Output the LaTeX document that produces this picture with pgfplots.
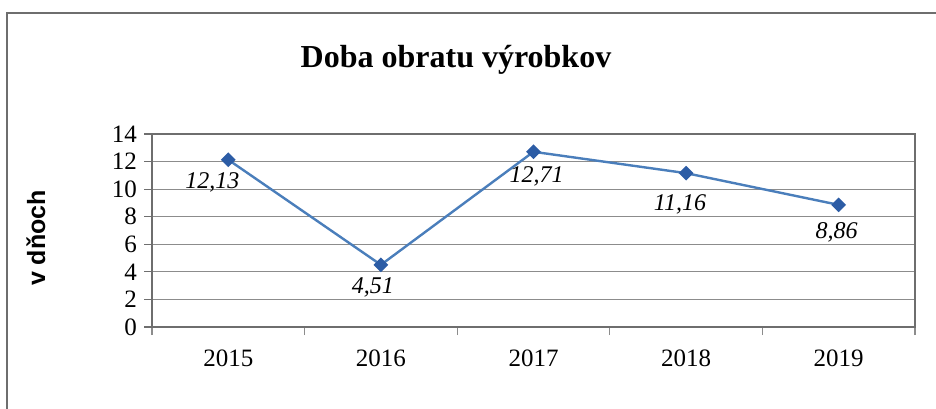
\documentclass[border=0pt]{standalone}
\usepackage{fontspec}
\setmainfont{Liberation Serif}
\newfontfamily\arialfont{Liberation Sans}
\usepackage{pgfplots}
\usepackage{pgfplotstable}
\pgfplotsset{compat=1.18}

\definecolor{linec}{RGB}{74,126,187}
\definecolor{markc}{RGB}{44,92,165}
\definecolor{gridc}{RGB}{140,140,140}
\definecolor{axisc}{RGB}{110,110,110}

% x = category index (2015..2019), dx/dy = label offset in pt
\pgfplotstableread{
x y dx dy
1 12.13 -8 -11.5
2 4.51 -4 -11.5
3 12.71 1.5 -12.5
4 11.16 -3 -15.5
5 8.86 -1 -14
}\doba

\begin{document}
\begin{tikzpicture}
\path[use as bounding box] (0,0) rectangle (468pt,204pt);
\draw[axisc, line width=0.8pt] (3.5pt,-2pt) -- (3.5pt,197.5pt) -- (470pt,197.5pt);
\node[font=\fontsize{16}{19}\selectfont\bfseries, anchor=base] at (228pt,170.5pt) {Doba obratu výrobkov};
\node[font=\arialfont\fontsize{12.5}{15}\selectfont\bfseries, rotate=90] at (18pt,85pt) {v dňoch};
\begin{axis}[
  at={(76pt,40.5pt)}, anchor=south west,
  scale only axis, width=381.5pt, height=96.5pt,
  xmin=0.5, xmax=5.5, ymin=0, ymax=14,
  xtick={1,...,5}, xticklabels={2015,2016,2017,2018,2019},
  minor xtick={0.5,1.5,...,5.5},
  ytick={0,2,...,14},
  ymajorgrids, grid style={gridc, line width=0.6pt},
  axis line style={axisc, line width=0.8pt},
  tick align=outside, tick pos=left,
  major tick length=4pt, minor tick length=4pt,
  major x tick style={draw=none},
  minor x tick style={gridc, line width=0.6pt},
  y tick style={axisc, line width=0.6pt},
  tick label style={font=\fontsize{12.5}{15}\selectfont},
  xticklabel style={yshift=-4pt},
  /pgf/number format/assume math mode=true,
]
\addplot[linec, line width=1.2pt, mark=square*, mark size=2pt,
  mark options={rotate=45, fill=markc, draw=markc},
  point meta=y,
  visualization depends on={\thisrow{dx} \as \dx},
  visualization depends on={\thisrow{dy} \as \dy},
  nodes near coords={\pgfmathprintnumber[use comma,fixed,fixed zerofill,precision=2,assume math mode=true]{\pgfplotspointmeta}},
  every node near coord/.append style={anchor=center, xshift=\dx pt, yshift=\dy pt,
    font=\fontsize{12}{14}\selectfont\itshape, text=black}]
  table[x=x, y=y] {\doba};
\end{axis}
\end{tikzpicture}
\end{document}
